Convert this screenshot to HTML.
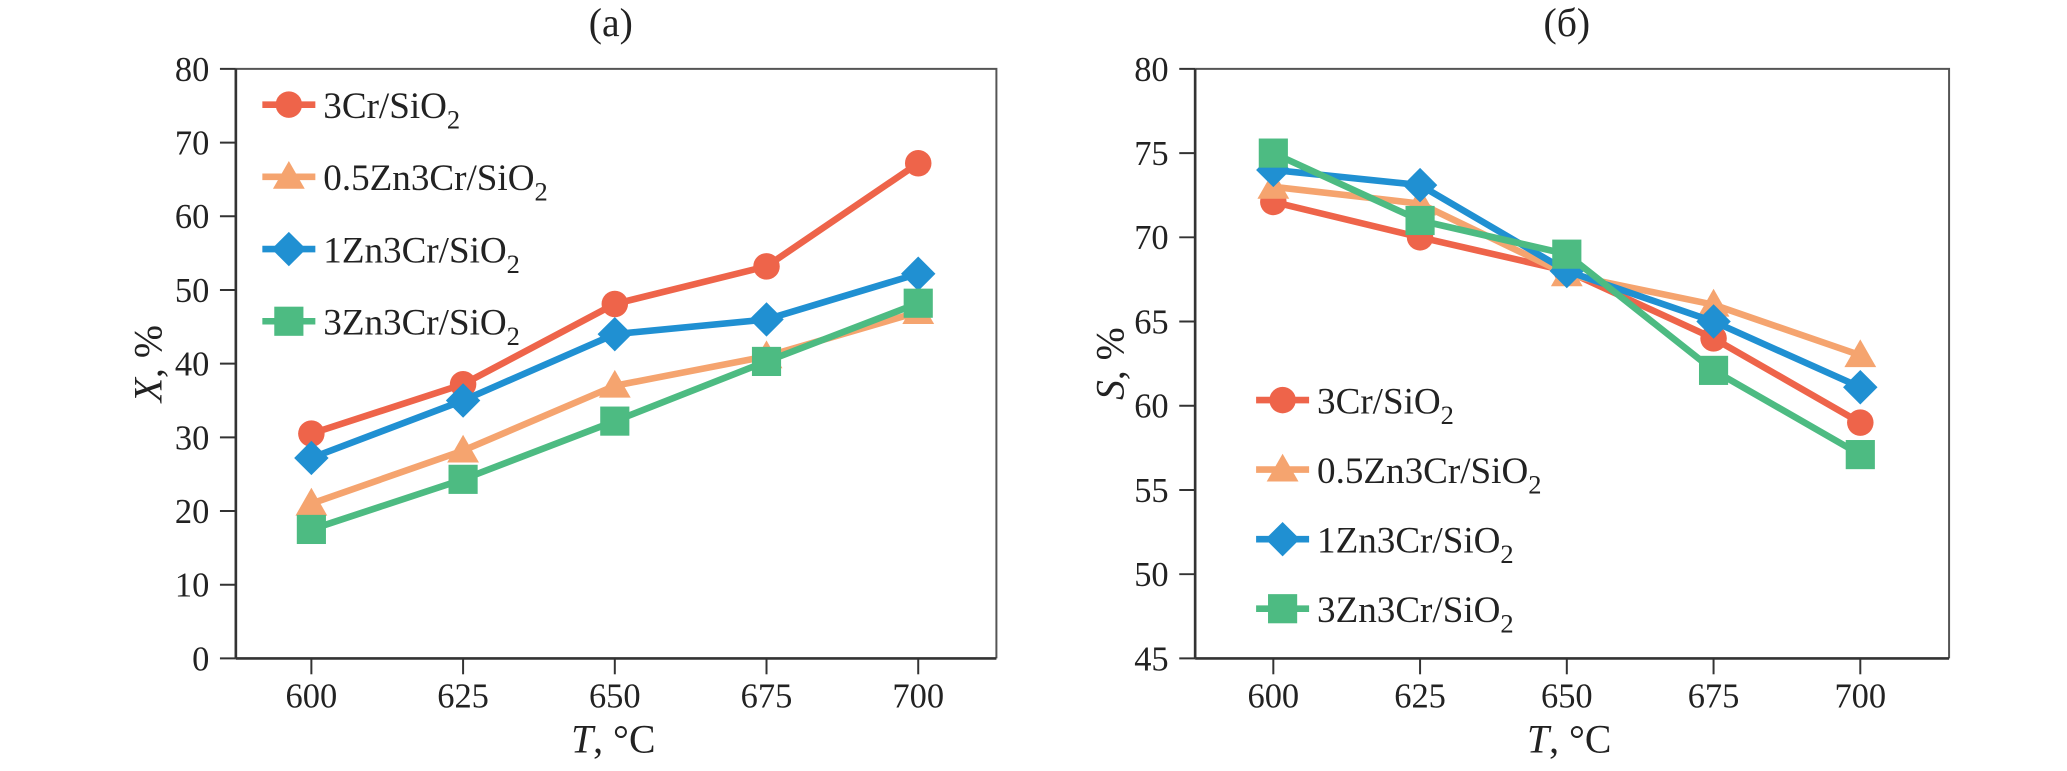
<!DOCTYPE html>
<html><head><meta charset="utf-8">
<style>
html,body{margin:0;padding:0;background:#fff;}
svg{display:block;font-family:"Liberation Serif",serif;}
</style></head>
<body>
<svg id="chart" width="2067" height="771" viewBox="0 0 1560 582" preserveAspectRatio="none" xmlns="http://www.w3.org/2000/svg"></svg>
<script>
const categories = [600, 625, 650, 675, 700];
const seriesNames = ["3Cr/SiO", "0.5Zn3Cr/SiO", "1Zn3Cr/SiO", "3Zn3Cr/SiO"];
const convA_3Cr = [30.5, 37.2, 48.1, 53.2, 67.2];
const convA_05Zn = [21, 28.2, 37, 41, 47];
const convA_1Zn = [27.2, 35, 44, 46, 52.2];
const convA_3Zn = [17.5, 24.3, 32.2, 40.3, 48.2];
const selB_3Cr = [72.1, 70, 68, 64, 59];
const selB_05Zn = [73, 72, 67.8, 66, 63];
const selB_1Zn = [74, 73.1, 68, 65, 61.1];
const selB_3Zn = [75, 71, 69, 62.1, 57.1];
const yTicksA = [0, 10, 20, 30, 40, 50, 60, 70, 80];
const yTicksB = [45, 50, 55, 60, 65, 70, 75, 80];

const colors = ["#ee644a", "#f5a46f", "#2090d2", "#4dbb82"];
const markers = ["circle", "triangle", "diamond", "square"];
const NS = "http://www.w3.org/2000/svg";
const svg = document.getElementById("chart");
function mk(tag, attrs, parent) {
  const e = document.createElementNS(NS, tag);
  for (const k in attrs) e.setAttribute(k, attrs[k]);
  (parent || svg).appendChild(e);
  return e;
}
function marker(g, type, x, y, c) {
  let m;
  if (type === "circle") m = mk("circle", {cx: x, cy: y, r: 10, fill: c}, g);
  else if (type === "triangle") m = mk("polygon", {points: `${x},${y-12} ${x+12},${y+9} ${x-12},${y+9}`, fill: c}, g);
  else if (type === "diamond") m = mk("polygon", {points: `${x},${y-13} ${x+13},${y} ${x},${y+13} ${x-13},${y}`, fill: c}, g);
  else m = mk("rect", {x: x-11, y: y-11, width: 22, height: 22, fill: c}, g);
  return m;
}

function panel(cfg) {
  const g = mk("g", {});
  
  
  const {x0, x1, y0, y1, ymin, ymax, xFirst, xLast} = cfg;
  const sx = v => xFirst + (v - categories[0]) / (categories[categories.length-1] - categories[0]) * (xLast - xFirst);
  const sy = v => y1 - (v - ymin) / (ymax - ymin) * (y1 - y0);
  const frame = mk("path", {d: `M${x0},${y0} H${x1} V${y1}`, fill: "none", stroke: "#555", "stroke-width": 1.5}, g);
  
  
  const ax = mk("line", {x1: x0, y1: y0, x2: x0, y2: y1, stroke: "#333", "stroke-width": 2}, g);
  
  
  const axx = mk("line", {x1: x0, y1: y1, x2: x1, y2: y1, stroke: "#333", "stroke-width": 2}, g);
  
  
  cfg.yTicks.forEach(t => {
    const y = sy(t);
    mk("line", {x1: x0-12, y1: y, x2: x0, y2: y, stroke: "#333", "stroke-width": 1.5}, g);
    const tx = mk("text", {x: x0-20, y: y+9, "text-anchor": "end", "font-size": 26, fill: "#222"}, g);
    tx.textContent = t;
    
    
  });
  categories.forEach(c => {
    const x = sx(c);
    mk("line", {x1: x, y1: y1, x2: x, y2: y1+12, stroke: "#333", "stroke-width": 1.5}, g);
    const tx = mk("text", {x: x, y: y1+37, "text-anchor": "middle", "font-size": 26, fill: "#222"}, g);
    tx.textContent = c;
    
    
  });
  const xm = (x0 + x1) / 2 - 4;
  const xt = mk("text", {x: xm - 30, y: 568, "font-size": 30, fill: "#222"}, g);
  xt.innerHTML = '<tspan font-style="italic">T</tspan>, °C';
  
  
  const yt = mk("text", {transform: `translate(${cfg.ylx},${(y0+y1)/2}) rotate(-90)`, "text-anchor": "middle", "font-size": 30, fill: "#222"}, g);
  yt.innerHTML = `<tspan font-style="italic">${cfg.ylabel}</tspan>, %`;
  
  
  const tt = mk("text", {x: xm, y: 27, "text-anchor": "middle", "font-size": 30, fill: "#222"}, g);
  tt.textContent = cfg.title;
  
  
  cfg.data.forEach((arr, i) => {
    const sg = mk("g", {}, g);
    
    
    const pts = arr.map((v, j) => `${sx(categories[j])},${sy(v)}`).join(" ");
    const pl = mk("polyline", {points: pts, fill: "none", stroke: colors[i], "stroke-width": 5, "stroke-linejoin": "round"}, sg);
    
    
    arr.forEach((v, j) => {
      const m = marker(sg, markers[i], sx(categories[j]), sy(v), colors[i]);
      
      
    });
  });
  const lg = mk("g", {}, g);
  
  
  seriesNames.forEach((n, i) => {
    const y = cfg.legY + i * cfg.legStep;
    const e = mk("g", {}, lg);
    
    
    mk("line", {x1: cfg.legX, y1: y, x2: cfg.legX + 40, y2: y, stroke: colors[i], "stroke-width": 5}, e);
    marker(e, markers[i], cfg.legX + 20, y, colors[i]);
    const t = mk("text", {x: cfg.legX + 46, y: y + 10, "font-size": 28, fill: "#222"}, e);
    t.innerHTML = `${n}<tspan font-size="20" dy="8">2</tspan>`;
  });
}

panel({name: "panel-a-conversion", title: "(a)", ylabel: "X", x0: 178, x1: 752, y0: 52, y1: 497, ymin: 0, ymax: 80,
  xFirst: 235, xLast: 693, yTicks: yTicksA, ylx: 122,
  data: [convA_3Cr, convA_05Zn, convA_1Zn, convA_3Zn], legX: 198, legY: 79, legStep: 54.5});
panel({name: "panel-b-selectivity", title: "(б)", ylabel: "S", x0: 902, x1: 1471, y0: 52, y1: 497, ymin: 45, ymax: 80,
  xFirst: 961, xLast: 1404, yTicks: yTicksB, ylx: 848,
  data: [selB_3Cr, selB_05Zn, selB_1Zn, selB_3Zn], legX: 948, legY: 302, legStep: 52.5});
</script>
</body></html>
